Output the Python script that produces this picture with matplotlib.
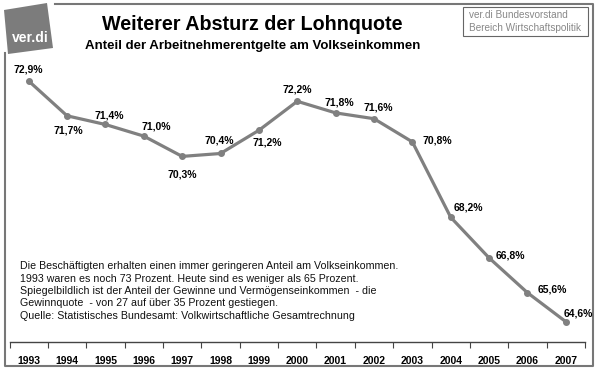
import matplotlib
matplotlib.use("Agg")
import matplotlib.pyplot as plt
from matplotlib.patches import Polygon, Rectangle

plt.rcParams['font.family'] = ['Liberation Sans', 'DejaVu Sans']

years = ['1993', '1994', '1995', '1996', '1997', '1998', '1999', '2000',
         '2001', '2002', '2003', '2004', '2005', '2006', '2007']
lohnquote = [72.9, 71.7, 71.4, 71.0, 70.3, 70.4, 71.2, 72.2,
             71.8, 71.6, 70.8, 68.2, 66.8, 65.6, 64.6]
labels = ['72,9%', '71,7%', '71,4%', '71,0%', '70,3%', '70,4%', '71,2%', '72,2%',
          '71,8%', '71,6%', '70,8%', '68,2%', '66,8%', '65,6%', '64,6%']
# label offsets in pixels (dx, dy up)
offsets = [(0, 11), (1, -15), (4, 9), (12, 10), (0, -18), (-1, 13), (8, -12), (0, 12),
           (4, 10), (4, 11), (25, 1), (18, 10), (21, 2), (25, 3), (12, 8)]

title = 'Weiterer Absturz der Lohnquote'
subtitle = 'Anteil der Arbeitnehmerentgelte am Volkseinkommen'
notes = ['Die Beschäftigten erhalten einen immer geringeren Anteil am Volkseinkommen.',
         '1993 waren es noch 73 Prozent. Heute sind es weniger als 65 Prozent.',
         'Spiegelbildlich ist der Anteil der Gewinne und Vermögenseinkommen  - die',
         'Gewinnquote  - von 27 auf über 35 Prozent gestiegen.',
         'Quelle: Statistisches Bundesamt: Volkwirtschaftliche Gesamtrechnung']
source_box = ['ver.di Bundesvorstand', 'Bereich Wirtschaftspolitik']

W, H = 600, 371
fig = plt.figure(figsize=(6, 3.71), dpi=100)
fig.patch.set_facecolor('white')

# overlay in pixel coords for frame, logo and texts
bg = fig.add_axes([0, 0, 1, 1])
bg.set_xlim(0, W)
bg.set_ylim(H, 0)
bg.axis('off')

frame_col = '#777777'
bg.plot([55, 593, 593, 5, 5], [4, 4, 366, 366, 53], color=frame_col, lw=1.5)

logo = Polygon([(4, 10), (47, 3), (53, 48), (8, 54)], closed=True,
               facecolor='#7c7c7c', edgecolor='none')
bg.add_patch(logo)
bg.text(30, 38, 'ver.di', color='white', fontsize=10, fontweight='bold',
        ha='center', va='center')

bg.text(252, 25, title, fontsize=14.2, fontweight='bold', ha='center', va='center')
bg.text(253, 46, subtitle, fontsize=9.5, fontweight='bold', ha='center', va='center')

bg.add_patch(Rectangle((463, 7), 125, 29, facecolor='white', edgecolor='#666666', lw=0.8))
bg.text(469, 15, source_box[0], fontsize=7.2, color='#888888', va='center')
bg.text(469, 28, source_box[1], fontsize=7.2, color='#888888', va='center')

for i, line in enumerate(notes):
    bg.text(20, 266 + i * 12.5, line, fontsize=7.7, va='center', color='#111111')

# chart axes
ax = fig.add_axes([9.5 / W, 29 / H, 575.5 / W, 278.4 / H])
ax.patch.set_alpha(0)
x = list(range(len(years)))
ax.plot(x, lohnquote, color='#808080', lw=2.3, marker='o', markersize=4,
        markerfacecolor='#808080', markeredgecolor='#808080')
for xi, v, lab, (dx, dy) in zip(x, lohnquote, labels, offsets):
    ax.annotate(lab, (xi, v), xytext=(dx, dy), textcoords='offset pixels',
                ha='center', va='center', fontsize=7.5, fontweight='bold')

ax.set_xlim(-0.5, len(years) - 0.5)
ax.set_ylim(63.9, 73.5)
ax.set_yticks([])
for s in ['top', 'right', 'left']:
    ax.spines[s].set_visible(False)
ax.spines['bottom'].set_color('#444444')
ax.spines['bottom'].set_linewidth(1.0)
ax.set_xticks([i - 0.5 for i in range(len(years) + 1)])
ax.set_xticklabels([])
ax.tick_params(axis='x', which='major', direction='out', length=4, color='#444444')
ax.set_xticks(x, minor=True)
ax.set_xticklabels(years, minor=True, fontsize=7.5, fontweight='bold')
ax.tick_params(axis='x', which='minor', length=0, pad=10)

fig.savefig('out.png', dpi=100)
